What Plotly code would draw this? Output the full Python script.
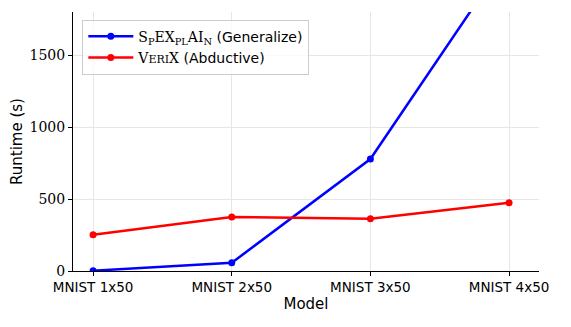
import plotly.graph_objects as go

# Runtime per model (seconds)
models = ["MNIST 1x50", "MNIST 2x50", "MNIST 3x50", "MNIST 4x50"]
spexplain_runtime = [2, 57, 778, 2200]
verix_runtime = [252, 375, 363, 475]

serif = "DejaVu Serif"
sans = "DejaVu Sans"

spexplain_name = (
    f'<span style="font-family:{serif}">S<sub>P</sub>EX<sub>PL</sub>AI<sub>N</sub></span>'
    ' (Generalize)'
)
verix_name = (
    f'<span style="font-family:{serif}">V<span style="font-size:11px">ERI</span>X</span>'
    ' (Abductive)'
)

fig = go.Figure()
fig.add_trace(go.Scatter(
    x=models, y=spexplain_runtime, mode="lines+markers", name=spexplain_name,
    line=dict(color="#0000ff", width=2.5), marker=dict(size=7, color="#0000ff"),
))
fig.add_trace(go.Scatter(
    x=models, y=verix_runtime, mode="lines+markers", name=verix_name,
    line=dict(color="#ff0000", width=2.5), marker=dict(size=7, color="#ff0000"),
))

# the page body adds an 8px offset, so the figure is drawn 8px smaller
fig.update_layout(
    width=563, height=319,
    margin=dict(l=65, r=32, t=4, b=56),
    plot_bgcolor="white", paper_bgcolor="white",
    font=dict(family=sans, size=13, color="black"),
    showlegend=True,
    legend=dict(
        x=0.02, y=0.97, xanchor="left", yanchor="top",
        bgcolor="rgba(255,255,255,0.8)", bordercolor="#cccccc", borderwidth=1,
        font=dict(size=14), tracegroupgap=0, itemwidth=45,
    ),
)
fig.update_xaxes(
    title=dict(text="Model", font=dict(size=15), standoff=4),
    range=[-0.145, 3.216], automargin=False,
    showline=True, linecolor="black", linewidth=1,
    ticks="outside", ticklen=4, tickcolor="black",
    showgrid=True, gridcolor="#e6e6e6", gridwidth=1,
    tickfont=dict(size=13.5, family=sans),
)
fig.update_yaxes(
    title=dict(text="Runtime (s)", font=dict(size=15), standoff=3),
    range=[0, 1800], tickvals=[0, 500, 1000, 1500], automargin=False,
    showline=True, linecolor="black", linewidth=1,
    ticks="outside", ticklen=4, tickcolor="black",
    showgrid=True, gridcolor="#e6e6e6", gridwidth=1, zeroline=False,
    tickfont=dict(size=14, family=serif),
)

fig.write_html("out.html")
